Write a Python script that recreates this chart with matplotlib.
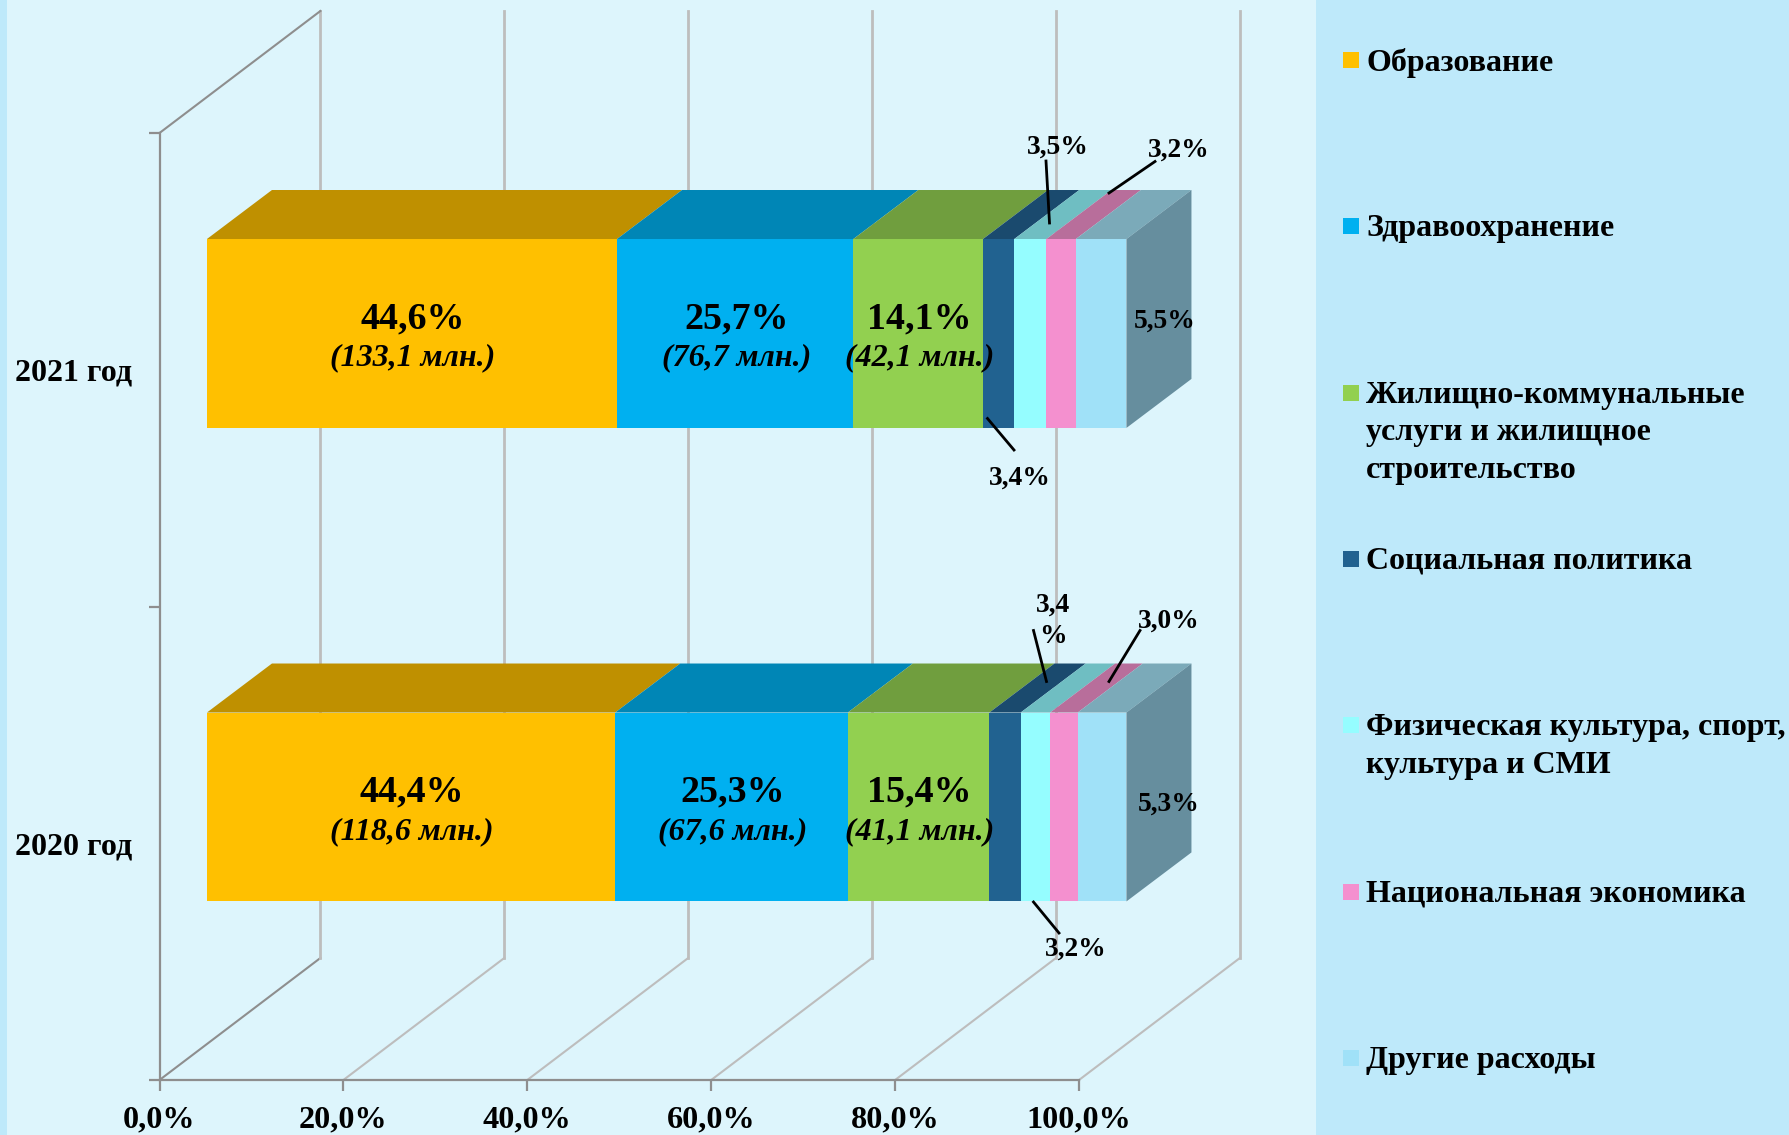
import matplotlib
matplotlib.use('Agg')
import matplotlib.pyplot as plt
from matplotlib.patches import Polygon, Rectangle

plt.rcParams['font.family'] = ['Liberation Serif', 'DejaVu Serif']
plt.rcParams['font.weight'] = 'bold'

W, H = 1789, 1135

years = ['2020 год', '2021 год']
groups = ['Образование', 'Здравоохранение', 'Жилищно-коммунальные\nуслуги и жилищное\nстроительство',
          'Социальная политика', 'Физическая культура, спорт,\nкультура и СМИ',
          'Национальная экономика', 'Другие расходы']
share_2020 = [44.4, 25.3, 15.4, 3.4, 3.2, 3.0, 5.3]
share_2021 = [44.6, 25.7, 14.1, 3.4, 3.5, 3.2, 5.5]
mln_2020 = ['118,6', '67,6', '41,1']
mln_2021 = ['133,1', '76,7', '42,1']
xticks = [0, 20, 40, 60, 80, 100]

front_colors = ['#FFC000', '#00B0F0', '#92D050', '#216290', '#95FDFF', '#F490CF', '#A0E1F8']
top_colors = ['#BF9000', '#0086B6', '#709E3E', '#1A4A6E', '#6FBEC2', '#B86E9B', '#7BAAB9']
side_color = '#668E9E'
bg = '#DDF5FC'
panel = '#BEE9FA'

# depth of the fake 3d box, in data units
wall_dx, wall_dy = 17.5, 0.2577
bar_shift_x, bar_shift_y = 5.16, 0.0766
bar_dx, bar_dy = 7.07, 0.1035
bar_h = 0.399


def pct(v):
    return f'{v:.1f}%'.replace('.', ',')


def px(x, y):
    return x / W, 1 - y / H


fig = plt.figure(figsize=(W / 100, H / 100), dpi=100, facecolor=bg)
fig.patches.append(Rectangle((1316 / W, 0), 1 - 1316 / W, 1, transform=fig.transFigure, color=panel, lw=0))
fig.patches.append(Rectangle((0, 0), 7 / W, 1, transform=fig.transFigure, color=panel, lw=0))

ax = fig.add_axes([159.5 / W, 55 / H, 919.5 / W, 947 / H])
ax.patch.set_visible(False)
ax.set_xlim(0, 100)
ax.set_ylim(0, 2)

for s in ['top', 'right']:
    ax.spines[s].set_visible(False)
for s in ['left', 'bottom']:
    ax.spines[s].set_color('#8E8E8E')
    ax.spines[s].set_linewidth(1.6)

ax.set_xticks(xticks)
ax.set_xticklabels([pct(t) for t in xticks], fontsize=23.2)
ax.tick_params(axis='x', length=8, width=1.6, color='#8E8E8E', pad=10)
ax.set_yticks([0, 1, 2])
ax.set_yticklabels([])
ax.tick_params(axis='y', which='major', length=8, width=1.6, color='#8E8E8E')
ax.set_yticks([0.5, 1.5], minor=True)
ax.set_yticklabels(years, minor=True, fontsize=23)
ax.tick_params(axis='y', which='minor', length=0, pad=19.5)

# walls and floor lines
for t in xticks:
    col = '#8E8E8E' if t == 0 else '#BDBDBD'
    ax.plot([t, t + wall_dx], [0, wall_dy], color=col, lw=1.5, clip_on=False, zorder=1)
    ax.plot([t + wall_dx, t + wall_dx], [wall_dy, 2 + wall_dy], color='#BDBDBD', lw=2, clip_on=False, zorder=1)
ax.plot([0, wall_dx], [2, 2 + wall_dy], color='#8E8E8E', lw=1.5, clip_on=False, zorder=1)

# bars
for cat, shares, mln in [(0.5, share_2020, mln_2020), (1.5, share_2021, mln_2021)]:
    yc = cat + bar_shift_y
    left = 0
    for i, v in enumerate(shares):
        x0 = left + bar_shift_x
        ax.barh(yc, v, left=x0, height=bar_h, color=front_colors[i], lw=0, clip_on=False, zorder=3)
        top = yc + bar_h / 2
        ax.add_patch(Polygon([(x0, top), (x0 + v, top), (x0 + v + bar_dx, top + bar_dy), (x0 + bar_dx, top + bar_dy)],
                             color=top_colors[i], lw=0, clip_on=False, zorder=3))
        if i < 3:
            ax.annotate(pct(v), (x0 + v / 2, yc), xytext=(0.7, 10.5), textcoords='offset points',
                        ha='center', va='center', fontsize=27.4, zorder=5)
            ax.annotate(f'({mln[i]} млн.)', (x0 + v / 2, yc), xytext=(0.7, -17.5), textcoords='offset points',
                        ha='center', va='center', fontsize=23, style='italic', zorder=5)
        left += v
    xe = left + bar_shift_x
    bot, top = yc - bar_h / 2, yc + bar_h / 2
    ax.add_patch(Polygon([(xe, bot), (xe + bar_dx, bot + bar_dy), (xe + bar_dx, top + bar_dy), (xe, top)],
                         color=side_color, lw=0, clip_on=False, zorder=3))

# small labels, placed by hand like in the original
small_labels = [
    (pct(share_2021[3]), (1020, 478), (987.5, 418.5), (1014, 450)),
    (pct(share_2021[4]), (1058, 147), (1046, 161), (1049.5, 223)),
    (pct(share_2021[5]), (1179, 150), (1155, 161.5), (1109, 193)),
    (pct(share_2021[6]), (1165, 321), None, None),
    (pct(share_2020[4]), (1076, 949), (1033.5, 902), (1059, 933)),
    (pct(share_2020[3]).replace('%', '\n%'), (1053, 621), (1033.5, 630.5), (1046.5, 681.5)),
    (pct(share_2020[5]), (1169, 621), (1140, 630.5), (1109, 681.5)),
    (pct(share_2020[6]), (1169, 804), None, None),
]
for txt, pos, a, b in small_labels:
    fig.text(*px(*pos), txt, ha='center', va='center', fontsize=19.8, zorder=6, linespacing=1.3)
    if a is not None:
        fig.add_artist(plt.Line2D([a[0] / W, b[0] / W], [1 - a[1] / H, 1 - b[1] / H], color='black', lw=2, zorder=6))

# legend on the right panel
for i, name in enumerate(groups):
    y = 60 + i * 166.3
    fig.patches.append(Rectangle((1343 / W, 1 - (y + 8) / H), 16 / W, 16 / H, transform=fig.transFigure,
                                 color=front_colors[i], lw=0))
    fig.text(1366 / W, 1 - (y - 12) / H, name, ha='left', va='top', fontsize=23, linespacing=1.39)

fig.savefig('out.png', dpi=100, facecolor=fig.get_facecolor())
